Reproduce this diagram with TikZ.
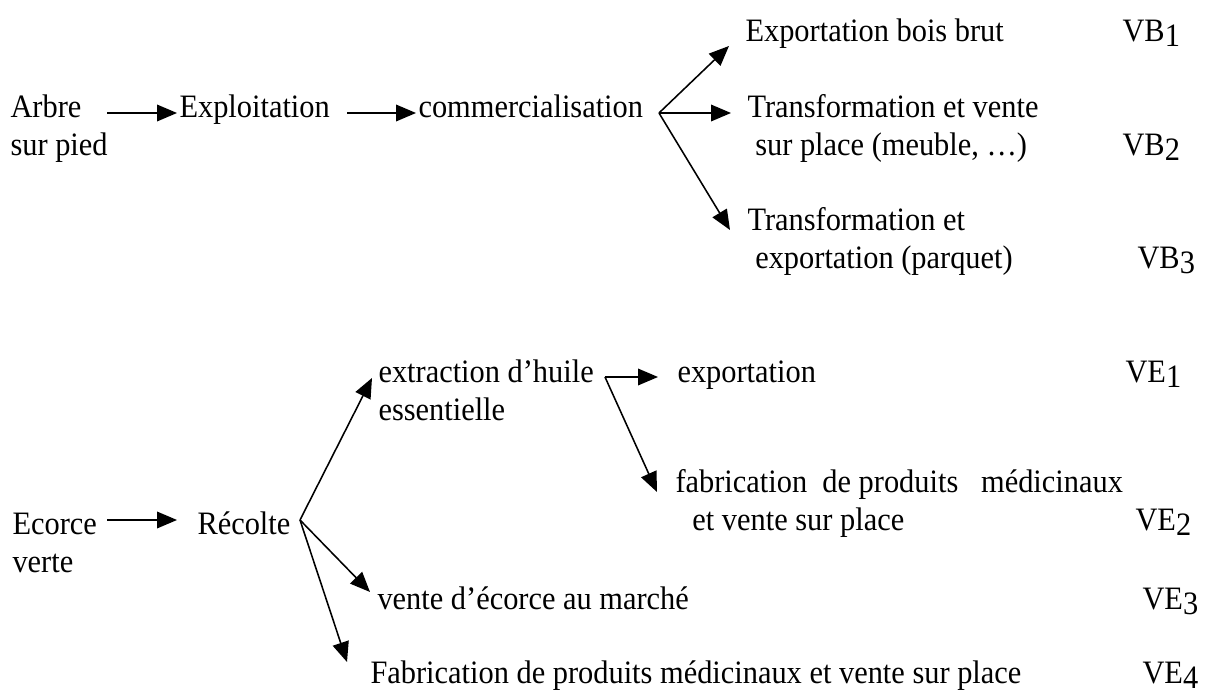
\documentclass[tikz,border=0pt]{standalone}
\usepackage{fontspec}
\setmainfont{Liberation Serif}[FakeStretch=0.93]
\usetikzlibrary{arrows.meta}

\tikzset{
  txt/.style={anchor=base west, inner sep=0pt, align=left,
    font=\fontsize{12.6pt}{14.65pt}\selectfont},
  fleche/.style={-{Triangle[length=7.7pt,width=6.4pt]}, line width=0.6pt},
}
\newcommand{\indice}[1]{\raisebox{-0.13em}{#1}}

\begin{document}
\begin{tikzpicture}[x=0.3855pt, y=-0.3855pt]
	\useasboundingbox (0,0) rectangle (1214,693);

	% filiere bois (base = derniere ligne)
	\node[txt] (arbre) at (10,156) {Arbre\\sur pied};
	\node[txt] (exploit) at (179,118) {Exploitation};
	\node[txt] (commerce) at (418,118) {commercialisation};
	\node[txt] (expbois) at (745,42) {Exportation bois brut};
	\node[txt] (transvente) at (747,156) {Transformation et vente\\\hspace*{3pt}sur place (meuble, \dots)};
	\node[txt] (transexp) at (747,269) {Transformation et\\\hspace*{3pt}exportation (parquet)};
	\node[txt] (vb1) at (1122,42) {VB\indice{1}};
	\node[txt] (vb2) at (1122,156) {VB\indice{2}};
	\node[txt] (vb3) at (1137,269) {VB\indice{3}};

	\coordinate (a1) at (107,113);
	\coordinate (a2) at (177,113);
	\coordinate (b1) at (347,113);
	\coordinate (b2) at (416,113);
	\coordinate (fourche1) at (659,113);
	\coordinate (c1) at (729,46);
	\coordinate (c2) at (731,113);
	\coordinate (c3) at (730,230);

	\draw[fleche] (a1) -- (a2);
	\draw[fleche] (b1) -- (b2);
	\draw[fleche] (fourche1) -- (c1);
	\draw[fleche] (fourche1) -- (c2);
	\draw[fleche] (fourche1) -- (c3);

	% filiere ecorce
	\node[txt] (ecorce) at (12,573) {Ecorce\\verte};
	\node[txt] (recolte) at (197,535) {Récolte};
	\node[txt] (huile) at (378,421) {extraction d’huile\\essentielle};
	\node[txt] (export) at (677,383) {exportation};
	\node[txt] (fabsurplace) at (675,531) {fabrication\ \ de produits\ \ \ médicinaux\\\hspace*{6.5pt}et vente sur place};
	\node[txt] (marche) at (377,610) {vente d’écorce au marché};
	\node[txt] (fabvente) at (370,684) {Fabrication de produits médicinaux et vente sur place};
	\node[txt] (ve1) at (1125,383) {VE\indice{1}};
	\node[txt] (ve2) at (1135,531) {VE\indice{2}};
	\node[txt] (ve3) at (1142,610) {VE\indice{3}};
	\node[txt] (ve4) at (1142,684) {VE\indice{4}};

	\coordinate (d1) at (107,520);
	\coordinate (d2) at (177,520);
	\coordinate (fourche2) at (300,520);
	\coordinate (e1) at (372,378);
	\coordinate (e2) at (370,592);
	\coordinate (e3) at (347,662);
	\coordinate (fourche3) at (605,377);
	\coordinate (f1) at (658,377);
	\coordinate (f2) at (657,492);

	\draw[fleche] (d1) -- (d2);
	\draw[fleche] (fourche2) -- (e1);
	\draw[fleche] (fourche2) -- (e2);
	\draw[fleche] (fourche2) -- (e3);
	\draw[fleche] (fourche3) -- (f1);
	\draw[fleche] (fourche3) -- (f2);

\end{tikzpicture}
\end{document}
